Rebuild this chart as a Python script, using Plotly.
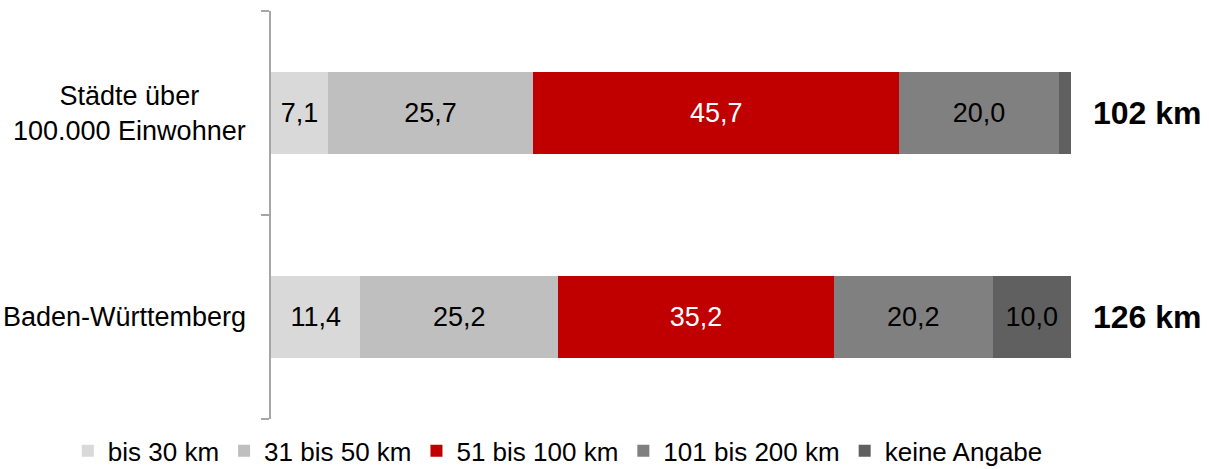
import plotly.graph_objects as go

categories = ["Städte über<br>100.000 Einwohner", "Baden-Württemberg"]
series_names = ["bis 30 km", "31 bis 50 km", "51 bis 100 km", "101 bis 200 km", "keine Angabe"]
bis30 = [7.1, 11.4]
b31_50 = [25.7, 25.2]
b51_100 = [45.7, 35.2]
b101_200 = [20.0, 20.2]
keine = [1.5, 10.0]
totals = ["102 km", "126 km"]

series_values = [bis30, b31_50, b51_100, b101_200, keine]
colors = ["#D9D9D9", "#BFBFBF", "#C00000", "#808080", "#606060"]
text_colors = ["black", "black", "white", "black", "black"]
FONT = "Liberation Sans, Arial, sans-serif"


def fmt(v, show=True):
    return f"{v:.1f}".replace(".", ",") if show else ""


fig = go.Figure()
for name, vals, col, tcol in zip(series_names, series_values, colors, text_colors):
    fig.add_trace(go.Bar(
        y=categories, x=vals, name=name, orientation="h",
        marker=dict(color=col, line=dict(width=0)),
        text=[fmt(v, v >= 3) for v in vals],
        textposition="inside", insidetextanchor="middle", textangle=0,
        constraintext="none",
        textfont=dict(family=FONT, size=27, color=tcol),
        hoverinfo="skip",
    ))

for cat, tot in zip(categories, totals):
    fig.add_annotation(x=1.095, xref="paper", y=cat, yref="y", text=f"<b>{tot}</b>",
                       showarrow=False, xanchor="center",
                       font=dict(family=FONT, size=32, color="black"))
    fig.add_annotation(x=-0.029, xref="paper", y=cat, yref="y", text=cat,
                       showarrow=False, xanchor="right", align="center",
                       font=dict(family=FONT, size=27, color="black"))

fig.update_layout(
    width=1209, height=469,
    barmode="stack", barnorm="percent", bargap=0.6,
    margin=dict(l=271, r=138, t=11, b=50, autoexpand=False),
    plot_bgcolor="white", paper_bgcolor="white",
    font=dict(family=FONT, size=26, color="black"),
    xaxis=dict(visible=False, range=[0, 100]),
    yaxis=dict(categoryorder="array", categoryarray=categories[::-1],
               tickson="boundaries", ticks="outside", ticklen=8, tickwidth=2,
               tickcolor="#A6A6A6", showline=True, linecolor="#A6A6A6", linewidth=2,
               showticklabels=False, showgrid=False, zeroline=False),
    legend=dict(orientation="h", x=-0.254, xanchor="left", y=-0.078, yanchor="middle",
                font=dict(family=FONT, size=26), itemwidth=30, traceorder="normal",
                tracegroupgap=0),
    showlegend=True,
)

fig.write_html("out.html", config={"displayModeBar": False},
               post_script="document.body.style.margin='0';")
